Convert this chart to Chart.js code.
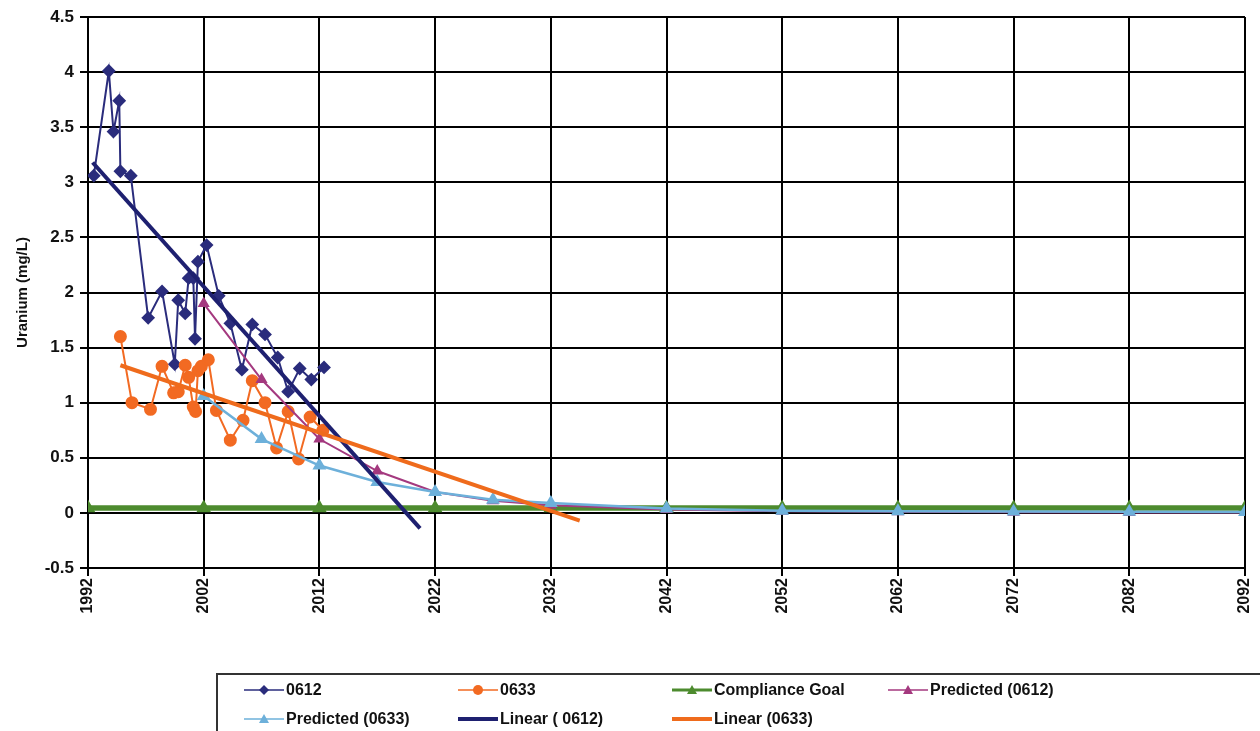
<!DOCTYPE html>
<html><head><meta charset="utf-8">
<script src="https://cdn.jsdelivr.net/npm/chart.js@4.4.0/dist/chart.umd.min.js"></script>
<style>
html,body{margin:0;padding:0;background:#fff;}
#wrap{position:relative;width:1260px;height:731px;overflow:hidden;background:#fff;}
#c{position:absolute;left:0;top:0;}
#legend{position:absolute;left:216px;top:673px;width:1060px;height:90px;border:2px solid #333;box-sizing:border-box;font:bold 16px "Liberation Sans",Arial,sans-serif;color:#111;}
.item{position:absolute;display:flex;align-items:center;height:20px;white-space:nowrap;}
.item svg{display:block;margin-right:2px;}
</style></head>
<body><div id="wrap"><canvas id="c" width="1260" height="731"></canvas><div id="legend"></div></div>
<script>
// ---- data ----
const years0612 = [1992.5, 1993.8, 1994.2, 1994.7, 1994.8, 1995.7, 1997.2, 1998.4, 1999.5, 1999.8, 2000.4, 2000.7, 2001.1, 2001.25, 2001.5, 2002.25, 2003.3, 2004.3, 2005.3, 2006.2, 2007.3, 2008.4, 2009.3, 2010.3, 2011.3, 2012.4];
const vals0612  = [3.06, 4.01, 3.46, 3.74, 3.10, 3.06, 1.77, 2.01, 1.35, 1.93, 1.81, 2.13, 2.13, 1.58, 2.28, 2.43, 1.97, 1.72, 1.30, 1.71, 1.62, 1.41, 1.10, 1.31, 1.21, 1.32];

const years0633 = [1994.8, 1995.8, 1997.4, 1998.4, 1999.4, 1999.8, 2000.4, 2000.7, 2001.1, 2001.3, 2001.5, 2001.8, 2002.4, 2003.1, 2004.3, 2005.4, 2006.2, 2007.3, 2008.3, 2009.3, 2010.2, 2011.2, 2012.3];
const vals0633  = [1.60, 1.00, 0.94, 1.33, 1.09, 1.10, 1.34, 1.23, 0.96, 0.92, 1.29, 1.33, 1.39, 0.93, 0.66, 0.84, 1.20, 1.00, 0.59, 0.92, 0.49, 0.87, 0.75];

const goalYears = [1992, 2002, 2012, 2022, 2032, 2042, 2052, 2062, 2072, 2082, 2092];
const goalVals  = [0.044, 0.044, 0.044, 0.044, 0.044, 0.044, 0.044, 0.044, 0.044, 0.044, 0.044];

const predYears  = [2002, 2007, 2012, 2017, 2022, 2027, 2032, 2042, 2052, 2062, 2072, 2082, 2092];
const pred0612   = [1.90, 1.21, 0.67, 0.38, 0.19, 0.11, 0.07, 0.03, 0.015, 0.01, 0.006, 0.004, 0.003];
const pred0633   = [1.06, 0.67, 0.43, 0.28, 0.19, 0.12, 0.09, 0.04, 0.02, 0.015, 0.012, 0.01, 0.008];

const linYears0612 = [1992.4, 2020.7];
const linVals0612  = [3.18, -0.14];
const linYears0633 = [1994.8, 2034.5];
const linVals0633  = [1.34, -0.07];

const xTicks = [1992, 2002, 2012, 2022, 2032, 2042, 2052, 2062, 2072, 2082, 2092];
const yTicks = [-0.5, 0, 0.5, 1, 1.5, 2, 2.5, 3, 3.5, 4, 4.5];

const seriesNames = ['0612', '0633', 'Compliance Goal', 'Predicted (0612)', 'Predicted (0633)', 'Linear ( 0612)', 'Linear (0633)'];

// ---- chart ----
const pts = (xs, ys) => xs.map((x, i) => ({x: x, y: ys[i]}));
const FONT = '"Liberation Sans", Arial, sans-serif';

const C = {
  s0612: '#2A2C7C', s0633: '#F26A22', goal: '#4D8B2E',
  p0612: '#A4397F', p0633: '#6DB0DA', l0612: '#1E2070', l0633: '#EF6B1C'
};

const datasets = [
  {label: seriesNames[0], data: pts(years0612, vals0612), borderColor: C.s0612, backgroundColor: C.s0612,
   borderWidth: 2, pointStyle: 'rectRot', pointRadius: 5.5, order: 6},
  {label: seriesNames[1], data: pts(years0633, vals0633), borderColor: C.s0633, backgroundColor: C.s0633,
   borderWidth: 2, pointStyle: 'circle', pointRadius: 5.5, order: 5},
  {label: seriesNames[2], data: pts(goalYears, goalVals), borderColor: C.goal, backgroundColor: C.goal,
   borderWidth: 5.5, pointStyle: 'triangle', pointRadius: 3, order: 4},
  {label: seriesNames[3], data: pts(predYears, pred0612), borderColor: C.p0612, backgroundColor: C.p0612,
   borderWidth: 2, pointStyle: 'triangle', pointRadius: 5, order: 3},
  {label: seriesNames[4], data: pts(predYears, pred0633), borderColor: C.p0633, backgroundColor: C.p0633,
   borderWidth: 2.5, pointStyle: 'triangle', pointRadius: 5.5, order: 2},
  {label: seriesNames[5], data: pts(linYears0612, linVals0612), borderColor: C.l0612, backgroundColor: C.l0612,
   borderWidth: 4, pointRadius: 0, order: 1},
  {label: seriesNames[6], data: pts(linYears0633, linVals0633), borderColor: C.l0633, backgroundColor: C.l0633,
   borderWidth: 4, pointRadius: 0, order: 0}
];

new Chart(document.getElementById('c'), {
  type: 'line',
  data: {datasets: datasets},
  options: {
    responsive: false, animation: false,
    layout: {padding: {left: 0, top: 17, right: 15, bottom: 0}},
    plugins: {legend: {display: false}, tooltip: {enabled: false}},
    elements: {line: {tension: 0}},
    scales: {
      x: {
        type: 'linear', min: 1992, max: 2092,
        afterBuildTicks: s => { s.ticks = xTicks.map(v => ({value: v})); },
        afterFit: s => { s.height = 163; s.paddingLeft = 0; s.paddingRight = 0; },
        grid: {color: '#000', lineWidth: 2, tickLength: 8, tickColor: '#000'},
        border: {color: '#000', width: 2},
        ticks: {minRotation: 90, maxRotation: 90, padding: 2, color: '#111',
                font: {family: FONT, size: 16, weight: 'bold'}, callback: v => String(v)}
      },
      y: {
        type: 'linear', min: -0.5, max: 4.5,
        afterBuildTicks: s => { s.ticks = yTicks.map(v => ({value: v})); },
        afterFit: s => { s.width = 88; s.paddingTop = 0; s.paddingBottom = 0; },
        grid: {color: '#000', lineWidth: 2, tickLength: 8, tickColor: '#000'},
        border: {color: '#000', width: 2},
        ticks: {padding: 6, color: '#111', font: {family: FONT, size: 17, weight: 'bold'},
                callback: v => String(v)},
        title: {display: true, text: 'Uranium (mg/L)', color: '#111',
                font: {family: FONT, size: 15, weight: 'bold'}, padding: {top: 14, bottom: 0}}
      }
    }
  }
});

// ---- legend (HTML) ----
const legendPos = [
  [26, 5], [240, 5], [454, 5], [670, 5],
  [26, 34], [240, 34], [454, 34]
];
const legendMarker = ['diamond', 'circle', 'triangle', 'triangle', 'triangle', null, null];
const legendColor = [C.s0612, C.s0633, C.goal, C.p0612, C.p0633, C.l0612, C.l0633];
const legendWidth = [1.5, 1.5, 3, 1.5, 1.5, 4, 4];
const lg = document.getElementById('legend');
seriesNames.forEach((name, i) => {
  const d = document.createElement('div');
  d.className = 'item';
  d.style.left = legendPos[i][0] + 'px';
  d.style.top = legendPos[i][1] + 'px';
  const col = legendColor[i];
  let mk = '';
  if (legendMarker[i] === 'diamond') mk = `<polygon points="20,2 25,7 20,12 15,7" fill="${col}"/>`;
  if (legendMarker[i] === 'circle') mk = `<circle cx="20" cy="7" r="5" fill="${col}"/>`;
  if (legendMarker[i] === 'triangle') mk = `<polygon points="20,2 25,11 15,11" fill="${col}"/>`;
  d.innerHTML = `<svg width="40" height="14"><line x1="0" y1="7" x2="40" y2="7" stroke="${col}" stroke-width="${legendWidth[i]}"/>${mk}</svg><span>${name}</span>`;
  lg.appendChild(d);
});
</script>
</body></html>
